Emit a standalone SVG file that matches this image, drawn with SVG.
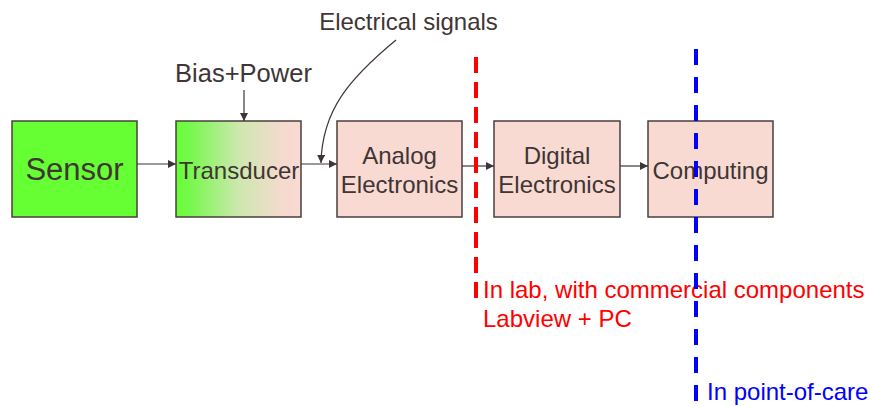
<svg xmlns="http://www.w3.org/2000/svg" width="872" height="406" viewBox="0 0 872 406">
<defs>
<linearGradient id="tg" x1="0" y1="0" x2="1" y2="0">
<stop offset="0" stop-color="#66FF33"/>
<stop offset="0.12" stop-color="#78F84E"/>
<stop offset="0.5" stop-color="#CDE8AE"/>
<stop offset="0.85" stop-color="#F5DACF"/>
<stop offset="1" stop-color="#F8DAD2"/>
</linearGradient>
<marker id="ah" viewBox="0 0 10 10" refX="10" refY="5" markerWidth="8" markerHeight="8" markerUnits="userSpaceOnUse" orient="auto">
<path d="M0,0 L10,5 L0,10 z" fill="#3F3535"/>
</marker>
<style>
.box{fill:#F8DAD2;stroke:#4A3E3E;stroke-width:1.5}
.t{font-family:"Liberation Sans",Arial,sans-serif;fill:#3F3535}
.c{stroke:#3F3535;stroke-width:1.2;fill:none;marker-end:url(#ah)}
.n{font-family:"Liberation Sans",Arial,sans-serif;font-size:24px}
</style>
</defs>
<g id="sensor">
<rect x="12" y="121" width="125" height="96" fill="#66FF33" stroke="#4A3E3E" stroke-width="1.5"/>
<text class="t" x="74.5" y="180" font-size="31" text-anchor="middle">Sensor</text>
</g>
<g id="transducer">
<rect x="176" y="121" width="125" height="96" fill="url(#tg)" stroke="#4A3E3E" stroke-width="1.5"/>
<text class="t" x="239" y="179" font-size="24" text-anchor="middle">Transducer</text>
</g>
<g id="analog">
<rect class="box" x="337" y="121" width="125" height="96"/>
<text class="t" x="399.5" y="164" font-size="24" text-anchor="middle">Analog</text>
<text class="t" x="399.5" y="193" font-size="24" text-anchor="middle">Electronics</text>
</g>
<g id="digital">
<rect class="box" x="494" y="121" width="126" height="96"/>
<text class="t" x="557" y="164" font-size="24" text-anchor="middle">Digital</text>
<text class="t" x="557" y="193" font-size="24" text-anchor="middle">Electronics</text>
</g>
<g id="computing">
<rect class="box" x="648" y="121" width="125" height="96"/>
<text class="t" x="710.5" y="179" font-size="24" text-anchor="middle">Computing</text>
</g>
<g id="bias">
<text class="t" x="243.5" y="82" font-size="25.5" text-anchor="middle">Bias+Power</text>
</g>
<g id="signals">
<text class="t" x="408.5" y="30" font-size="24" text-anchor="middle">Electrical signals</text>
</g>
<g id="connectors">
<line class="c" x1="137" y1="164" x2="176" y2="164"/>
<line class="c" x1="301" y1="164" x2="337" y2="164"/>
<line class="c" x1="462" y1="166" x2="494" y2="166"/>
<line class="c" x1="620" y1="166" x2="648" y2="166"/>
<line class="c" x1="244" y1="90" x2="244" y2="121"/>
<path class="c" d="M396,40 C350,78 322,110 321,163"/>
</g>
<g id="lab">
<line x1="476" y1="57" x2="476" y2="302" stroke="#FF0000" stroke-width="4" stroke-dasharray="16,9"/>
<text class="n" x="483" y="298" fill="#FF0000">In lab, with commercial components</text>
<text class="n" x="483" y="327" fill="#FF0000">Labview + PC</text>
</g>
<g id="poc">
<line x1="696" y1="49" x2="696" y2="402" stroke="#0000FF" stroke-width="4" stroke-dasharray="16,12"/>
<text class="n" x="707" y="400" fill="#0000FF">In point-of-care</text>
</g>
</svg>
